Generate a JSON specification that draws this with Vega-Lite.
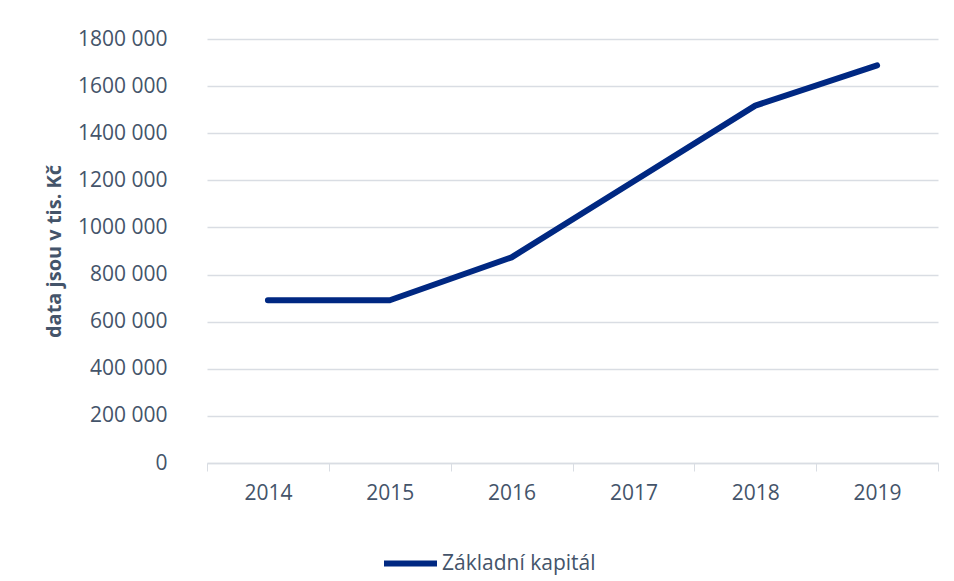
{
  "$schema": "https://vega.github.io/schema/vega-lite/v6.json",
  "width": 731,
  "height": 424,
  "autosize": {"type": "none"},
  "padding": {"left": 207, "top": 39, "right": 16, "bottom": 118},
  "background": "white",
  "data": {
    "values": [
      {"year": "2014", "value": 691000, "series": "Základní kapitál"},
      {"year": "2015", "value": 691000, "series": "Základní kapitál"},
      {"year": "2016", "value": 873000, "series": "Základní kapitál"},
      {"year": "2017", "value": 1195000, "series": "Základní kapitál"},
      {"year": "2018", "value": 1517000, "series": "Základní kapitál"},
      {"year": "2019", "value": 1688000, "series": "Základní kapitál"}
    ]
  },
  "mark": {"type": "line", "strokeWidth": 6, "strokeCap": "round", "strokeJoin": "round"},
  "encoding": {
    "x": {
      "field": "year",
      "type": "ordinal",
      "scale": {"type": "band", "paddingInner": 0, "paddingOuter": 0},
      "axis": {
        "title": null,
        "labelAngle": 0,
        "tickBand": "extent",
        "tickSize": 8,
        "tickColor": "#D9DDE3",
        "domainColor": "#D9DDE3",
        "domainWidth": 1.5,
        "labelPadding": 11,
        "labelFont": "Open Sans",
        "labelFontSize": 21,
        "labelColor": "#44546A",
        "grid": false
      }
    },
    "y": {
      "field": "value",
      "type": "quantitative",
      "scale": {"domain": [0, 1800000], "nice": false},
      "axis": {
        "title": "data jsou v tis. Kč",
        "titleFont": "Open Sans",
        "titleFontSize": 20,
        "titleFontWeight": "bold",
        "titleColor": "#44546A",
        "titlePadding": 13,
        "values": [0, 200000, 400000, 600000, 800000, 1000000, 1200000, 1400000, 1600000, 1800000],
        "labelExpr": "datum.value == 0 ? '0' : floor(datum.value / 1000) + ' 000'",
        "labelFont": "Open Sans",
        "labelFontSize": 21,
        "labelColor": "#44546A",
        "labelPadding": 40,
        "ticks": false,
        "domain": false,
        "grid": true,
        "gridColor": "#D9DDE3",
        "gridWidth": 1.5
      }
    },
    "color": {
      "field": "series",
      "type": "nominal",
      "scale": {"range": ["#002882"]},
      "legend": {
        "title": null,
        "orient": "none",
        "legendX": 174,
        "legendY": 495,
        "symbolType": "stroke",
        "symbolSize": 2809,
        "symbolStrokeWidth": 6,
        "labelOffset": 2,
        "labelFont": "Open Sans",
        "labelFontSize": 21,
        "labelColor": "#44546A"
      }
    }
  },
  "config": {"view": {"stroke": null}}
}
